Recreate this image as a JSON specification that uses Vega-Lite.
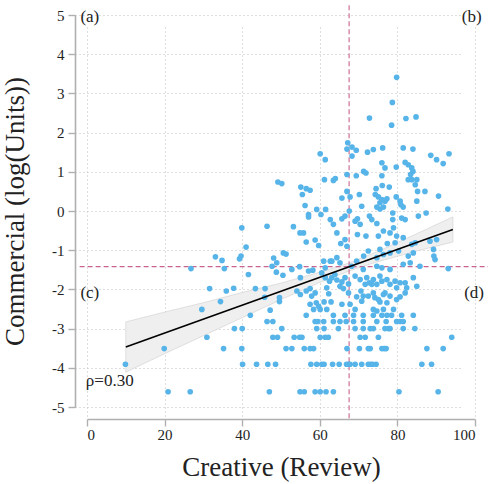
{
"$schema": "https://vega.github.io/schema/vega-lite/v6.json",
"width": 388, "height": 392,
"autosize": "none",
"padding": {"left": 87, "top": 15, "right": 13, "bottom": 77},
"config": {
 "font": "Liberation Serif",
 "view": {"stroke": null},
 "axis": {"domainColor": "#b0b0b0", "domainWidth": 1.6, "tickColor": "#b0b0b0", "tickWidth": 1.4, "tickSize": 7, "offset": 12,
  "labelFont": "Liberation Serif", "labelFontSize": 15, "labelColor": "#222222", "titleFont": "Liberation Serif", "titleFontSize": 27, "titleFontWeight": "normal", "titleColor": "#222222",
  "labelOverlap": false,
  "grid": true, "gridColor": "#bdbdbd", "gridDash": [1, 3], "gridWidth": 1}
},
"layer": [
 {
  "data": {"values": [
   {"x": 10, "lo": -4.11, "hi": -2.83},
   {"x": 20, "lo": -3.64, "hi": -2.58},
   {"x": 30, "lo": -3.18, "hi": -2.34},
   {"x": 40, "lo": -2.72, "hi": -2.08},
   {"x": 50, "lo": -2.26, "hi": -1.84},
   {"x": 60, "lo": -1.82, "hi": -1.56},
   {"x": 67.5, "lo": -1.53, "hi": -1.33},
   {"x": 75, "lo": -1.29, "hi": -1.03},
   {"x": 85, "lo": -1.02, "hi": -0.58},
   {"x": 94.3, "lo": -0.79, "hi": -0.15}
  ]},
  "mark": {"type": "area", "fill": "#efefef", "stroke": "#d6d6d6", "strokeWidth": 0.8, "opacity": 0.95},
  "encoding": {
   "x": {"field": "x", "type": "quantitative", "scale": {"domain": [0, 100], "nice": false, "zero": false}, "title": "Creative (Review)",
     "axis": {"values": [0, 20, 40, 60, 80, 100], "labelPadding": 1, "titlePadding": 12}},
   "y": {"field": "lo", "type": "quantitative", "scale": {"domain": [-5, 5], "nice": false, "zero": false}, "title": "Commercial (log(Units))",
     "axis": {"values": [-5, -4, -3, -2, -1, 0, 1, 2, 3, 4, 5], "tickCount": 11, "labelPadding": 4, "titlePadding": 22, "format": "d", "labelExpr": "replace(datum.label, '−', '-')"}},
   "y2": {"field": "hi"}
  }
 },
 {
  "data": {"values": [{"v": 67.55}]},
  "mark": {"type": "rule", "color": "#c86490", "strokeDash": [5, 3], "strokeWidth": 1.1},
  "encoding": {"x": {"field": "v", "type": "quantitative", "title": "Creative (Review)"}, "y": {"datum": -5.29, "type": "quantitative"}, "y2": {"datum": 5.27}}
 },
 {
  "data": {"values": [{"v": -1.42}]},
  "mark": {"type": "rule", "color": "#c86490", "strokeDash": [5, 3], "strokeWidth": 1.1},
  "encoding": {"y": {"field": "v", "type": "quantitative", "title": "Commercial (log(Units))"}, "x": {"datum": -1.9, "type": "quantitative"}, "x2": {"datum": 106}}
 },
 {
  "data": {"values": [
{"x":9.9,"y":-3.91},{"x":19.9,"y":-3.51},{"x":20.9,"y":-4.61},{"x":26.6,"y":-4.61},{"x":26.8,"y":-1.47},
{"x":40.1,"y":-3.91},{"x":43.7,"y":-3.91},{"x":46.6,"y":-3.91},{"x":48.6,"y":-3.91},{"x":57.7,"y":-3.91},{"x":59.2,"y":-3.91},{"x":60.5,"y":-3.91},{"x":61.1,"y":-3.91},{"x":63.3,"y":-3.91},{"x":65.0,"y":-3.91},{"x":66.9,"y":-3.91},{"x":67.4,"y":-3.91},{"x":67.8,"y":-3.91},{"x":69.1,"y":-3.91},{"x":70.8,"y":-3.91},{"x":72.5,"y":-3.91},{"x":73.1,"y":-3.91},{"x":73.6,"y":-3.91},{"x":74.5,"y":-3.91},{"x":86.3,"y":-3.91},{"x":88.8,"y":-3.91},
{"x":47.0,"y":-4.61},{"x":54.9,"y":-4.61},{"x":56.0,"y":-4.61},{"x":58.8,"y":-4.61},{"x":60.1,"y":-4.61},{"x":61.6,"y":-4.61},{"x":63.5,"y":-4.61},{"x":80.4,"y":-4.61},{"x":90.5,"y":-4.61},
{"x":47.7,"y":-1.41},{"x":48.9,"y":-1.32},{"x":48.8,"y":-1.56},{"x":50.5,"y":-1.64},{"x":52.8,"y":-1.49},{"x":54.8,"y":-1.42},{"x":57.1,"y":-1.53},{"x":58.2,"y":-1.51},{"x":61.0,"y":-1.28},{"x":62.7,"y":-1.28},{"x":61.4,"y":-1.45},{"x":41.6,"y":-1.62},{"x":35.4,"y":-1.47},
{"x":31.6,"y":-1.98},{"x":35.9,"y":-2.04},{"x":37.8,"y":-1.97},{"x":43.4,"y":-1.98},{"x":45.9,"y":-1.98},{"x":34.4,"y":-2.31},{"x":29.6,"y":-2.51},{"x":45.8,"y":-2.20},{"x":49.6,"y":-2.21},{"x":49.6,"y":-2.31},{"x":54.1,"y":-2.04},{"x":55.0,"y":-2.13},{"x":56.5,"y":-2.04},{"x":57.5,"y":-1.98},{"x":57.9,"y":-2.17},{"x":58.8,"y":-2.09},{"x":59.1,"y":-2.34},{"x":59.7,"y":-2.43},{"x":57.5,"y":-2.38},{"x":58.4,"y":-2.51},{"x":60.1,"y":-2.51},{"x":61.8,"y":-2.51},{"x":61.1,"y":-2.32},{"x":62.3,"y":-2.11},{"x":47.2,"y":-2.53},{"x":42.1,"y":-2.66},{"x":46.4,"y":-2.82},{"x":47.9,"y":-2.82},{"x":56.5,"y":-2.66},{"x":58.8,"y":-2.82},{"x":59.5,"y":-2.82},{"x":61.0,"y":-2.82},{"x":38.0,"y":-3.00},{"x":40.0,"y":-3.00},{"x":50.2,"y":-3.00},{"x":59.2,"y":-3.00},{"x":61.1,"y":-3.00},{"x":30.9,"y":-3.22},{"x":47.9,"y":-3.22},{"x":49.1,"y":-3.22},{"x":53.4,"y":-3.22},{"x":54.8,"y":-3.22},{"x":55.4,"y":-3.22},{"x":60.1,"y":-3.22},{"x":61.4,"y":-3.22},{"x":62.2,"y":-3.22},{"x":35.2,"y":-3.51},{"x":39.9,"y":-3.51},{"x":51.3,"y":-3.51},{"x":52.8,"y":-3.51},{"x":56.0,"y":-3.51},{"x":57.5,"y":-3.51},{"x":58.4,"y":-3.51},
{"x":55.0,"y":-1.70},{"x":60.5,"y":-1.58},{"x":61.4,"y":-1.70},{"x":61.8,"y":-1.96},{"x":62.5,"y":-1.79},
{"x":68.2,"y":-1.41},{"x":71.2,"y":-1.49},{"x":74.7,"y":-1.41},{"x":76.0,"y":-1.45},{"x":81.5,"y":-1.36},{"x":83.3,"y":-1.32},{"x":85.8,"y":-1.41},{"x":93.1,"y":-1.47},{"x":89.7,"y":-1.24},
{"x":63.1,"y":-1.70},{"x":64.4,"y":-1.76},{"x":65.7,"y":-1.81},{"x":66.5,"y":-1.70},{"x":65.2,"y":-1.92},{"x":67.4,"y":-1.86},{"x":63.9,"y":-1.62},{"x":69.1,"y":-1.66},{"x":70.4,"y":-1.75},{"x":72.1,"y":-1.70},{"x":72.8,"y":-1.83},{"x":73.8,"y":-1.75},{"x":71.7,"y":-1.87},{"x":73.4,"y":-1.87},{"x":74.7,"y":-1.87},{"x":75.5,"y":-1.66},{"x":76.0,"y":-1.79},{"x":77.3,"y":-1.75},{"x":78.1,"y":-1.87},{"x":79.4,"y":-1.79},{"x":80.7,"y":-1.83},{"x":82.0,"y":-1.83},{"x":82.4,"y":-1.96},{"x":79.8,"y":-1.96},{"x":82.0,"y":-2.09},{"x":66.1,"y":-1.98},{"x":67.4,"y":-2.09},{"x":69.5,"y":-2.19},{"x":70.6,"y":-2.04},{"x":71.2,"y":-2.17},{"x":70.8,"y":-2.30},{"x":72.5,"y":-2.17},{"x":73.8,"y":-2.09},{"x":74.2,"y":-2.21},{"x":75.1,"y":-2.26},{"x":75.5,"y":-2.32},{"x":76.4,"y":-2.13},{"x":76.8,"y":-2.09},{"x":77.3,"y":-2.34},{"x":78.1,"y":-2.17},{"x":79.8,"y":-2.26},{"x":80.7,"y":-2.19},{"x":67.8,"y":-2.38},{"x":65.7,"y":-2.38},{"x":62.9,"y":-2.32},{"x":69.1,"y":-2.51},{"x":73.8,"y":-2.51},{"x":76.4,"y":-2.51},{"x":79.0,"y":-2.51},{"x":74.7,"y":-2.55},
{"x":78.1,"y":-1.49},{"x":84.1,"y":-1.70},{"x":85.0,"y":-1.92},{"x":69.5,"y":-1.28},{"x":63.1,"y":-1.28},{"x":65.2,"y":-1.32},
{"x":63.5,"y":-2.66},{"x":66.5,"y":-2.66},{"x":68.7,"y":-2.66},{"x":71.2,"y":-2.66},{"x":73.8,"y":-2.66},{"x":76.0,"y":-2.66},{"x":77.3,"y":-2.66},{"x":78.5,"y":-2.66},{"x":81.1,"y":-2.66},{"x":84.1,"y":-2.66},
{"x":63.5,"y":-2.82},{"x":65.2,"y":-2.82},{"x":66.8,"y":-2.82},{"x":68.7,"y":-2.82},{"x":71.2,"y":-2.82},{"x":74.7,"y":-2.82},{"x":77.1,"y":-2.82},{"x":79.8,"y":-2.82},{"x":80.7,"y":-2.82},{"x":81.5,"y":-2.82},
{"x":64.8,"y":-3.00},{"x":69.1,"y":-3.00},{"x":71.2,"y":-3.00},{"x":73.0,"y":-3.00},{"x":73.8,"y":-3.00},{"x":76.8,"y":-3.00},{"x":77.7,"y":-3.00},{"x":78.1,"y":-3.00},{"x":81.5,"y":-3.00},{"x":84.5,"y":-3.00},
{"x":70.4,"y":-3.22},{"x":71.7,"y":-3.22},{"x":75.1,"y":-3.22},{"x":94.0,"y":-3.22},
{"x":67.0,"y":-3.51},{"x":70.2,"y":-3.51},{"x":72.5,"y":-3.51},{"x":73.0,"y":-3.51},{"x":76.0,"y":-3.51},{"x":76.6,"y":-3.51},{"x":77.1,"y":-3.51},{"x":87.6,"y":-3.51},{"x":91.8,"y":-3.51},
{"x":53.2,"y":-0.40},{"x":54.9,"y":-0.56},{"x":55.8,"y":-0.56},{"x":58.8,"y":-0.74},{"x":56.5,"y":-0.79},{"x":59.7,"y":-0.88},{"x":62.7,"y":-0.22},{"x":63.5,"y":-0.34},{"x":64.4,"y":-0.56},{"x":66.5,"y":-0.73},{"x":65.4,"y":-0.83},{"x":67.0,"y":-0.90},{"x":69.1,"y":-0.26},{"x":70.4,"y":-0.34},{"x":69.7,"y":-0.60},{"x":71.9,"y":-0.64},{"x":74.7,"y":-0.32},{"x":75.1,"y":-0.64},{"x":76.4,"y":-0.51},{"x":78.1,"y":-0.56},{"x":79.0,"y":-0.43},{"x":79.8,"y":-0.64},{"x":77.4,"y":-0.83},{"x":79.4,"y":-0.81},{"x":81.5,"y":-0.68},{"x":82.0,"y":-0.22},{"x":83.7,"y":-0.85},{"x":84.6,"y":-0.81},{"x":50.6,"y":-1.07},{"x":64.4,"y":-1.19},{"x":71.3,"y":-1.15},{"x":72.5,"y":-1.02},{"x":75.5,"y":-0.98},{"x":76.4,"y":-1.11},{"x":74.7,"y":-1.19},{"x":78.1,"y":-1.07},{"x":80.3,"y":-1.02},{"x":82.8,"y":-1.15},{"x":84.1,"y":-1.07},
{"x":49.2,"y":0.74},{"x":39.9,"y":-0.43},{"x":41.0,"y":-0.92},{"x":46.4,"y":-0.39},{"x":33.1,"y":-1.17},{"x":34.8,"y":-1.26},{"x":39.3,"y":-1.22},{"x":39.7,"y":-1.15},{"x":48.1,"y":-1.20},{"x":51.3,"y":-1.10},
{"x":67.2,"y":1.74},{"x":67.0,"y":1.58},{"x":68.3,"y":1.63},{"x":69.4,"y":1.55},{"x":68.3,"y":1.40},{"x":60.1,"y":1.46},{"x":61.4,"y":1.31},{"x":72.3,"y":1.50},{"x":73.8,"y":1.57},{"x":76.2,"y":1.61},{"x":81.5,"y":1.61},{"x":84.0,"y":1.58},{"x":76.0,"y":1.23},{"x":76.8,"y":1.10},{"x":79.7,"y":1.12},{"x":82.0,"y":1.24},{"x":82.8,"y":1.18},{"x":83.7,"y":1.10},{"x":84.0,"y":1.01},{"x":83.4,"y":0.93},{"x":83.7,"y":0.80},{"x":82.8,"y":0.80},{"x":85.0,"y":0.80},{"x":85.2,"y":0.50},{"x":84.6,"y":0.67},{"x":71.3,"y":1.01},{"x":71.9,"y":0.97},{"x":69.4,"y":0.90},{"x":67.0,"y":0.93},{"x":64.0,"y":0.83},{"x":63.5,"y":0.78},{"x":61.2,"y":0.80},{"x":50.2,"y":0.70},{"x":55.1,"y":0.61},{"x":56.5,"y":0.57},{"x":57.5,"y":0.53},{"x":55.5,"y":0.42},{"x":65.7,"y":0.33},{"x":67.0,"y":0.50},{"x":67.8,"y":0.36},{"x":70.2,"y":0.42},{"x":70.8,"y":0.12},{"x":76.0,"y":0.90},{"x":76.1,"y":0.65},{"x":77.9,"y":0.61},{"x":74.5,"y":0.57},{"x":74.3,"y":0.42},{"x":75.1,"y":0.36},{"x":76.0,"y":0.29},{"x":76.8,"y":0.25},{"x":77.3,"y":0.31},{"x":75.5,"y":0.21},{"x":74.7,"y":0.10},{"x":75.5,"y":0.05},{"x":76.4,"y":0.10},{"x":79.7,"y":0.36},{"x":80.7,"y":0.25},{"x":81.5,"y":0.10},{"x":80.9,"y":0.16},{"x":85.0,"y":0.25},{"x":85.4,"y":-0.13},{"x":56.2,"y":0.14},{"x":57.1,"y":-0.09},{"x":57.1,"y":-0.15},{"x":59.2,"y":0.04},{"x":61.5,"y":0.04},{"x":60.3,"y":-0.09},{"x":65.7,"y":-0.20},{"x":66.5,"y":-0.13},{"x":67.6,"y":0.0},{"x":69.7,"y":-0.20},{"x":72.8,"y":-0.13},{"x":73.4,"y":-0.22},{"x":78.8,"y":-0.05},{"x":78.8,"y":-0.22},{"x":81.1,"y":-0.18},{"x":78.5,"y":2.19},
{"x":88.6,"y":1.42},{"x":90.1,"y":1.31},{"x":93.3,"y":1.46},{"x":91.8,"y":1.21},{"x":87.1,"y":0.50},{"x":90.6,"y":0.38},{"x":93.0,"y":0.05},{"x":87.4,"y":-0.05},{"x":90.1,"y":-0.73},{"x":89.3,"y":-0.98},{"x":89.4,"y":-1.15},{"x":88.4,"y":-0.77},
{"x":79.8,"y":3.41},{"x":78.7,"y":2.77},{"x":72.8,"y":2.37},{"x":82.2,"y":2.36},{"x":84.8,"y":2.40}
  ]},
  "mark": {"type": "circle", "color": "#56b4e9", "opacity": 1, "size": 32},
  "encoding": {
   "x": {"field": "x", "type": "quantitative", "title": "Creative (Review)"},
   "y": {"field": "y", "type": "quantitative", "title": "Commercial (log(Units))"}
  }
 },
 {
  "data": {"values": [
   {"x": 10, "fit": -3.47}, {"x": 94.3, "fit": -0.47}
  ]},
  "mark": {"type": "line", "color": "#000000", "strokeWidth": 1.6},
  "encoding": {
   "x": {"field": "x", "type": "quantitative", "title": "Creative (Review)"},
   "y": {"field": "fit", "type": "quantitative", "title": "Commercial (log(Units))"}
  }
 },
 {
  "data": {"values": [
   {"x": -1.7, "y": 4.96, "t": "(a)"},
   {"x": 96.6, "y": 4.96, "t": "(b)"},
   {"x": -1.7, "y": -2.09, "t": "(c)"},
   {"x": 97.2, "y": -2.08, "t": "(d)"},
   {"x": -0.3, "y": -4.33, "t": "ρ=0.30"}
  ]},
  "mark": {"type": "text", "align": "left", "baseline": "middle", "fontSize": 17, "font": "Liberation Serif", "color": "#222222"},
  "encoding": {
   "x": {"field": "x", "type": "quantitative", "title": "Creative (Review)"},
   "y": {"field": "y", "type": "quantitative", "title": "Commercial (log(Units))"},
   "text": {"field": "t"}
  }
 }
]
}
